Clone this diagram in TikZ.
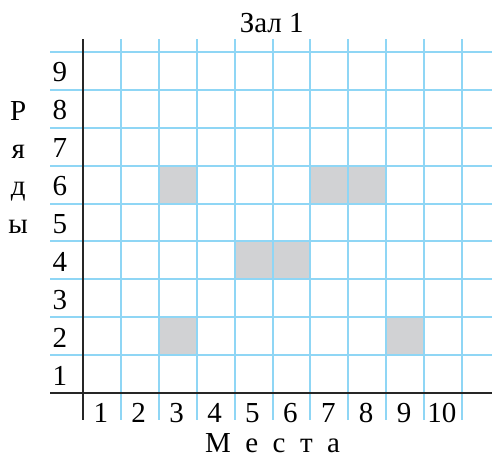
\documentclass[tikz,border=0pt]{standalone}
\usepackage{fontspec}
\setmainfont{Liberation Serif}
\definecolor{gridblue}{HTML}{8FD6F5}
\definecolor{seatgray}{HTML}{D1D2D4}

\begin{document}
\begin{tikzpicture}[
    x=0.758cm, y=0.758cm,
    font=\fontsize{16.5}{20}\selectfont,
    gridline/.style={draw=gridblue, line width=1.1pt},
    axisline/.style={draw=black!85, line width=1.3pt},
    taken/.style={fill=seatgray},
    num/.style={anchor=base, inner sep=0pt}
]
    \useasboundingbox (-2.19,-1.66) rectangle (10.79,10.37);

    % ================= OCCUPIED SEATS =================
    \foreach \c/\r in {3/6, 7/6, 8/6, 5/4, 6/4, 3/2, 9/2}
        \fill[taken] (\c-1,\r-1) rectangle (\c,\r);

    % ================= GRID =================
    \foreach \r in {1,...,9}
        \draw[gridline] (-0.87,\r) -- (10.79,\r);
    \foreach \c in {1,...,10}
        \draw[gridline] (\c,9.34) -- (\c,-0.71);

    % Axes
    \draw[axisline] (-0.87,0) -- (10.79,0);
    \draw[axisline] (0,9.34) -- (0,-0.71);

    % ================= LABELS =================
    \foreach \r in {1,...,9}
        \node[num] (row\r) at (-0.61,\r-0.79) {\r};
    \foreach \c in {1,...,10}
        \node[num] (col\c) at (\c-0.53,-0.77) {\c};

    \node[num] (title) at (4.98,9.52) {Зал 1};
    \node[num] (xlabel) at (5.0,-1.56) {М\enspace е\enspace с\enspace т\enspace а};

    % Vertical axis title
    \node[num] (ylab1) at (-1.71,7.2) {Р};
    \node[num] (ylab2) at (-1.71,6.2) {я};
    \node[num] (ylab3) at (-1.71,5.2) {д};
    \node[num] (ylab4) at (-1.71,4.2) {ы};

\end{tikzpicture}
\end{document}
